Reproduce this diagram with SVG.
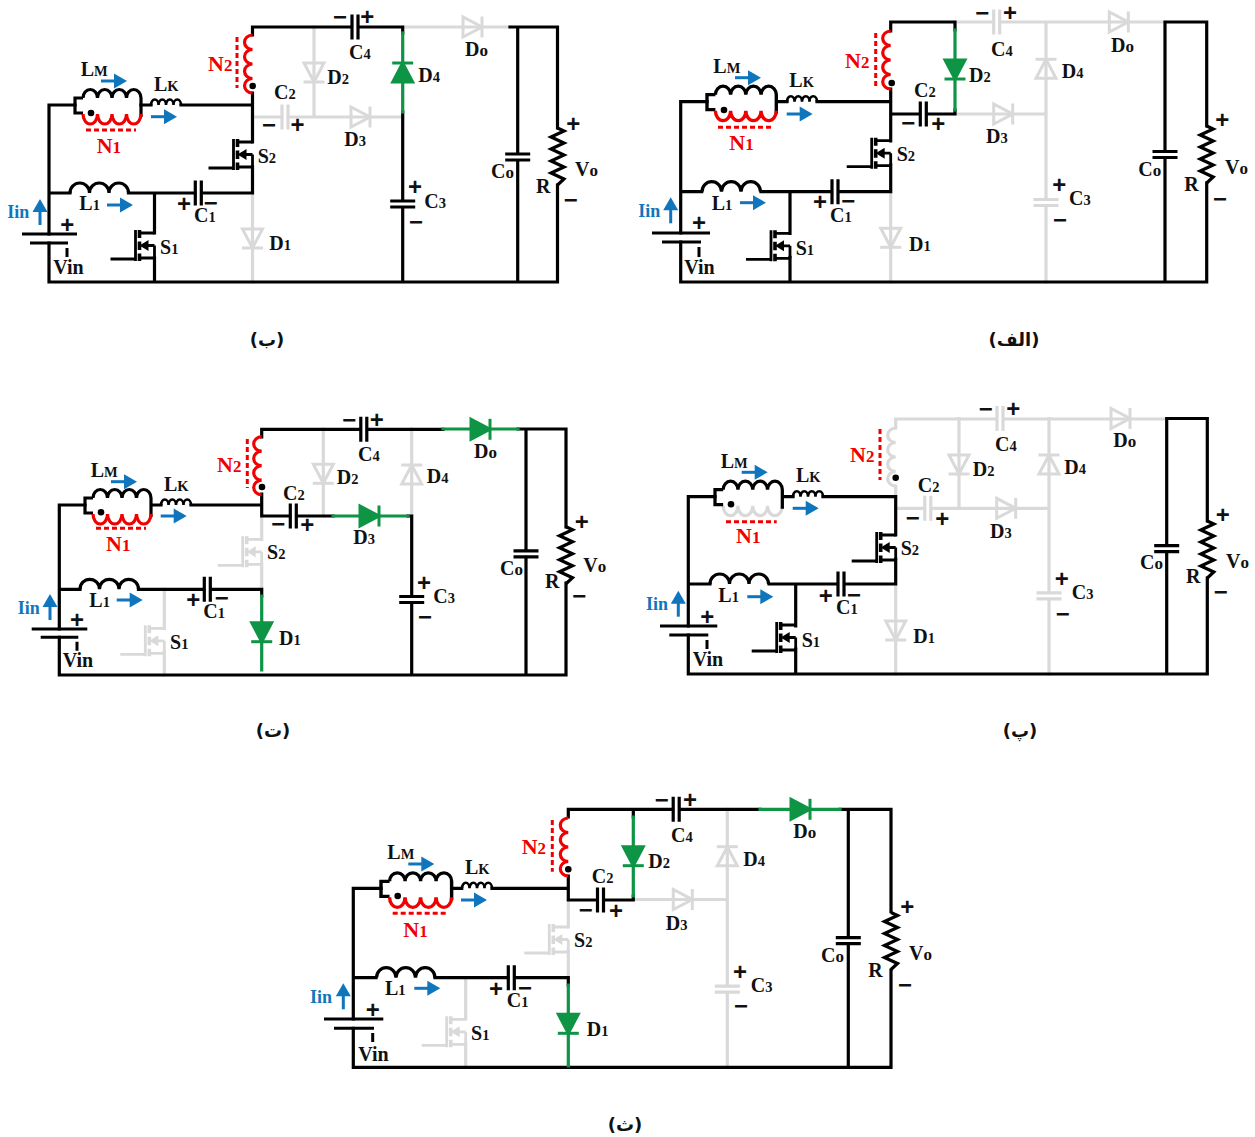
<svg xmlns="http://www.w3.org/2000/svg" width="1255" height="1137" viewBox="0 0 1255 1137">
<style>
text{font-family:"Liberation Serif","Times New Roman",serif;font-weight:bold;font-size:20px;fill:#111}
.s{font-size:14.5px}.o{font-size:17px}
.N{font-size:22px;fill:#f00000}.N .s{font-size:17px}
.I{font-size:18px;fill:#0f75bc}
.p{font-family:"Liberation Sans",Arial,sans-serif;font-size:24px;text-anchor:middle;transform:translateY(.8px)}
.cap{font-family:"DejaVu Sans",sans-serif;font-size:18px;text-anchor:middle;direction:rtl}
.w{fill:none;stroke-width:3.2;stroke-linejoin:miter;stroke-linecap:square}
.wk{stroke:#000}.wg{stroke:#d9d9d9}.wv{stroke:#0e9445}
.k{color:#000;fill:none}.g{color:#d9d9d9;fill:none}.v{color:#0e9445;fill:#0e9445}.r{color:#f00000;fill:none}
.bl{color:#0f75bc;fill:#0f75bc}
.dash{fill:none;stroke:#f00000;stroke-width:3;stroke-dasharray:5 3}
.tick{fill:none;stroke:#000;stroke-width:3}
circle{r:3.3px}
</style>
<defs>
<g id="dio" stroke="currentColor" stroke-width="3"><path d="M-10,-19H10L0,0Z"/><path d="M-10.5,0H10.5" fill="none"/></g>
<g id="cap" stroke="currentColor" stroke-width="3.2" fill="none"><rect x="-2" y="-3" width="4" height="6" fill="#fff" stroke="none"/><path d="M-3,-12.5V12.5M3,-12.5V12.5"/></g>
<g id="mos" fill="none" stroke="currentColor" stroke-width="2.8"><path d="M0,0H-15M0,25H-15M0,12.5V25M0,12.5H-10M-19,-3V28M-44,26H-19"/><path d="M-15,-3V5M-15,8.5V17M-15,20.5V28" stroke-width="3.6"/><path d="M-15,12.5L-6,7V18Z" fill="currentColor" stroke="none"/></g>
<path id="lmb" fill="none" stroke="#000" stroke-width="3.2" d="M8,-7H0V8H8M8,-7a7.25,8.5 0 0 1 14.5,0a7.25,8.5 0 0 1 14.5,0a7.25,8.5 0 0 1 14.5,0a7.25,8.5 0 0 1 14.5,0V12"/>
<path id="lmr" fill="none" stroke="currentColor" stroke-width="3.2" d="M8,9a7.25,10 0 0 0 14.5,0a7.25,10 0 0 0 14.5,0a7.25,10 0 0 0 14.5,0a7.25,10 0 0 0 14.5,0"/>
<path id="lk" fill="none" stroke="#000" stroke-width="2.6" d="M0,0a3.75,5.5 0 0 1 7.5,0a3.75,5.5 0 0 1 7.5,0a3.75,5.5 0 0 1 7.5,0a3.75,5.5 0 0 1 7.5,0"/>
<path id="l1" fill="none" stroke="#000" stroke-width="3.2" d="M0,0a9.75,10 0 0 1 19.5,0a9.75,10 0 0 1 19.5,0a9.75,10 0 0 1 19.5,0"/>
<path id="n2" fill="none" stroke="currentColor" stroke-width="3.2" d="M0,0a8,7.25 0 0 0 0,14.5a8,7.25 0 0 0 0,14.5a8,7.25 0 0 0 0,14.5a8,7.25 0 0 0 0,14.5"/>
<path id="res" fill="none" stroke="#000" stroke-width="3.2" d="M0,0L6.5,3L-6.5,9L6.5,15L-6.5,21L6.5,27L-6.5,33L6.5,39L-6.5,45L6.5,51L0,57"/>
<g id="arr" stroke="currentColor"><path d="M0,0H14" stroke-width="3" fill="none"/><path d="M13,-7.5L26,0L13,7.5Z" stroke="none"/></g>
</defs>

<g id="panel-b">
<g id="b-connectors" class="w">
<path class="w wg" d="M402.7,27H510M314,27V117M252.5,117H402.7M252.5,193V282"/>
<path class="w wk" d="M49,234V105H75M49,193H70M128.5,193H252.5V167M141,105H151M181,105H252.5M252.5,93V142M154.5,193V233M154.5,258V282M49,243V282H557.5V185M557.5,128V27H510M517.7,27V282M252.5,35V27H402.7V33M402.7,112V282"/>
<path class="w wv" d="M402.7,33V112"/>
</g>
<g id="b-LM"><use href="#lmb" x="75" y="105"/><use href="#lmr" x="75" y="105" class="r"/><circle cx="91" cy="113" r="3"/><use href="#arr" transform="translate(101,81)" class="bl"/><text x="80.7" y="75.7">L<tspan class="s">M</tspan></text></g>
<g id="b-N1"><path class="dash" d="M86,130H136"/><text class="N" x="96.7" y="152.7">N<tspan class="s">1</tspan></text></g>
<g id="b-LK"><use href="#lk" x="151" y="105"/><use href="#arr" transform="translate(151,116.7)" class="bl"/><text x="154" y="91">L<tspan class="s">K</tspan></text></g>
<g id="b-N2"><use href="#n2" x="252.5" y="35" class="r"/><path class="dash" d="M237,37V88"/><circle cx="252.7" cy="86" r="3"/><text class="N" x="208" y="71">N<tspan class="s">2</tspan></text></g>
<g id="b-L1"><use href="#l1" x="70" y="193"/><use href="#arr" transform="translate(107,205)" class="bl"/><text x="79.3" y="210">L<tspan class="s">1</tspan></text></g>
<g id="b-Vin"><path class="tick" d="M22,234H77M30,243H68"/><path class="tick" d="M67,248V257"/><text class="p" x="67.3" y="232.5">+</text><text x="53.3" y="274.3">Vin</text></g>
<g id="b-Iin"><use href="#arr" transform="translate(40,225) rotate(-90)" class="bl"/><text class="I" x="7.3" y="218.3">Iin</text></g>
<g id="b-S1"><use href="#mos" x="154.5" y="233" class="k"/><text x="160" y="254.3">S<tspan class="s">1</tspan></text></g>
<g id="b-S2"><use href="#mos" x="252.5" y="142" class="k"/><text x="257.7" y="162.7">S<tspan class="s">2</tspan></text></g>
<g id="b-C1"><use href="#cap" transform="translate(198.3,193)" class="k"/><text class="p" x="184" y="211.5">+</text><text class="p" x="210.7" y="210.2">−</text><text x="194" y="221.7">C<tspan class="s">1</tspan></text></g>
<g id="b-C2"><use href="#cap" transform="translate(285,117)" class="g"/><text class="p" x="269" y="132.5">−</text><text class="p" x="297.5" y="132.5">+</text><text x="274" y="99.3">C<tspan class="s">2</tspan></text></g>
<g id="b-C3"><use href="#cap" transform="translate(402.7,204) rotate(90)" class="k"/><text class="p" x="415" y="194.2">+</text><text class="p" x="416" y="228.8">−</text><text x="424.3" y="207.7">C<tspan class="s">3</tspan></text></g>
<g id="b-C4"><use href="#cap" transform="translate(355,27)" class="k"/><text class="p" x="340" y="24.2">−</text><text class="p" x="367.3" y="24.2">+</text><text x="349" y="59">C<tspan class="s">4</tspan></text></g>
<g id="b-D1"><use href="#dio" transform="translate(252.5,248)" class="g"/><text x="269.3" y="250">D<tspan class="s">1</tspan></text></g>
<g id="b-D2"><use href="#dio" transform="translate(314,82)" class="g"/><text x="327.3" y="84">D<tspan class="s">2</tspan></text></g>
<g id="b-D3"><use href="#dio" transform="translate(370,117) rotate(-90)" class="g"/><text x="344.3" y="146">D<tspan class="s">3</tspan></text></g>
<g id="b-D4"><use href="#dio" transform="translate(402.7,63) rotate(180)" class="v"/><text x="418.3" y="81.7">D<tspan class="s">4</tspan></text></g>
<g id="b-Do"><use href="#dio" transform="translate(482,27) rotate(-90)" class="g"/><text x="465" y="55.7">D<tspan class="o">o</tspan></text></g>
<g id="b-Co"><use href="#cap" transform="translate(517.7,157) rotate(90)" class="k"/><text x="491" y="177.7">C<tspan class="o">o</tspan></text></g>
<g id="b-R"><use href="#res" x="557.5" y="128"/><text class="p" x="573.3" y="130.8">+</text><text class="p" x="570.7" y="207.5">−</text><text x="536" y="192.7">R</text><text x="575" y="175.7">V<tspan class="o">o</tspan></text></g>
<text class="cap" x="267" y="346">(ب)</text>
</g>

<g id="panel-a">
<g id="a-connectors">
<path class="w wg" d="M955,22H1165M955,114H1046M1046,22V282M890.7,192V282"/>
<path class="w wk" d="M680.7,233V101.7H707M680.7,191.7H701.7M761,191.7H890.7V165M776.7,101.7H787M817,101.7H890.7M890.7,89V141M790,191.7V233.3M790,257.3V282M680.7,242V282H1206.7V183M1206.7,126V22H1165V282M890.7,31V22H955V30M955,110V114H890.7"/>
<path class="w wv" d="M955,30V110"/>
</g>
<g id="a-LM"><use href="#lmb" transform="translate(707,101.7) scale(1.05,1)"/><use href="#lmr" transform="translate(707,101.7) scale(1.05,1)" class="r"/><circle cx="724" cy="110" r="3"/><use href="#arr" transform="translate(735,77.7)" class="bl"/><text x="713.3" y="72.7">L<tspan class="s">M</tspan></text></g>
<g id="a-N1"><path class="dash" d="M718,127.3H772"/><text class="N" x="729.3" y="150">N<tspan class="s">1</tspan></text></g>
<g id="a-LK"><use href="#lk" x="787" y="101.7"/><use href="#arr" transform="translate(786.7,114)" class="bl"/><text x="789.3" y="86.7">L<tspan class="s">K</tspan></text></g>
<g id="a-N2"><use href="#n2" x="890.7" y="31" class="r"/><path class="dash" d="M875.7,33V87"/><circle cx="891.7" cy="83" r="3"/><text class="N" x="845" y="67.7">N<tspan class="s">2</tspan></text></g>
<g id="a-L1"><use href="#l1" x="702" y="191.7"/><use href="#arr" transform="translate(740,202.7)" class="bl"/><text x="711.7" y="210">L<tspan class="s">1</tspan></text></g>
<g id="a-Vin"><path class="tick" d="M652,233H710M662,242H701M699,247V257"/><text class="p" x="699" y="230.5">+</text><text x="684.3" y="274.3">Vin</text></g>
<g id="a-Iin"><use href="#arr" transform="translate(670.7,223.3) rotate(-90)" class="bl"/><text class="I" x="638.3" y="217.3">Iin</text></g>
<g id="a-S1"><use href="#mos" x="790" y="233.3" class="k"/><text x="795.7" y="255">S<tspan class="s">1</tspan></text></g>
<g id="a-S2"><use href="#mos" x="890.7" y="140.7" class="k"/><text x="896.7" y="160.7">S<tspan class="s">2</tspan></text></g>
<g id="a-C1"><use href="#cap" transform="translate(835,191.7)" class="k"/><text class="p" x="820" y="209.2">+</text><text class="p" x="848.3" y="208.2">−</text><text x="830" y="221.7">C<tspan class="s">1</tspan></text></g>
<g id="a-C2"><use href="#cap" transform="translate(923.3,114)" class="k"/><text class="p" x="908.3" y="129.8">−</text><text class="p" x="938.3" y="130.8">+</text><text x="914" y="96.7">C<tspan class="s">2</tspan></text></g>
<g id="a-C3"><use href="#cap" transform="translate(1046,202.5) rotate(90)" class="g"/><text class="p" x="1059.3" y="192.5">+</text><text class="p" x="1060" y="227.5">−</text><text x="1069" y="205">C<tspan class="s">3</tspan></text></g>
<g id="a-C4"><use href="#cap" transform="translate(996.7,22)" class="g"/><text class="p" x="982.3" y="20.2">−</text><text class="p" x="1010" y="20.2">+</text><text x="991" y="56">C<tspan class="s">4</tspan></text></g>
<g id="a-D1"><use href="#dio" transform="translate(890.7,247.3)" class="g"/><text x="909" y="250.7">D<tspan class="s">1</tspan></text></g>
<g id="a-D2"><use href="#dio" transform="translate(955,79)" class="v"/><text x="969" y="81.7">D<tspan class="s">2</tspan></text></g>
<g id="a-D3"><use href="#dio" transform="translate(1012.7,114) rotate(-90)" class="g"/><text x="986" y="143.3">D<tspan class="s">3</tspan></text></g>
<g id="a-D4"><use href="#dio" transform="translate(1046,59.3) rotate(180)" class="g"/><text x="1061.7" y="78.3">D<tspan class="s">4</tspan></text></g>
<g id="a-Do"><use href="#dio" transform="translate(1128.3,22) rotate(-90)" class="g"/><text x="1111" y="52.3">D<tspan class="o">o</tspan></text></g>
<g id="a-Co"><use href="#cap" transform="translate(1165,154.5) rotate(90)" class="k"/><text x="1138.3" y="175.7">C<tspan class="o">o</tspan></text></g>
<g id="a-R"><use href="#res" x="1206.7" y="126"/><text class="p" x="1222.3" y="127.5">+</text><text class="p" x="1220" y="205.8">−</text><text x="1184.3" y="190.7">R</text><text x="1225" y="174">V<tspan class="o">o</tspan></text></g>
<text class="cap" x="1014" y="346">(الف)</text>
</g>

<g id="panel-t">
<g id="t-connectors">
<path class="w wg" d="M323.3,429V516M411.7,429V516M164.3,589.3V628.3M164.3,651.7V675M261.7,516V539.3M261.7,564V589.3"/>
<path class="w wk" d="M59.3,629V505H85M59.3,589.3H80M138.5,589.3H261.7V596M151.7,505H161M191,505H261.7M261.7,494V516H333M59.3,637.3V675H566V583M566,527V429H518M526,429V675M261.7,437V429.3H443M408,516H411.7V675"/>
<path class="w wv" d="M333,516H408M443,429H518M261.7,596V670"/>
</g>
<g id="t-LM"><use href="#lmb" x="85" y="505"/><use href="#lmr" x="85" y="505" class="r"/><circle cx="101" cy="512.3" r="3"/><use href="#arr" transform="translate(111,481.7)" class="bl"/><text x="90.7" y="477">L<tspan class="s">M</tspan></text></g>
<g id="t-N1"><path class="dash" d="M96,528.3H146"/><text class="N" x="106" y="550.7">N<tspan class="s">1</tspan></text></g>
<g id="t-LK"><use href="#lk" x="161" y="505"/><use href="#arr" transform="translate(160.7,516)" class="bl"/><text x="164" y="491">L<tspan class="s">K</tspan></text></g>
<g id="t-N2"><use href="#n2" x="261.7" y="436.7" class="r"/><path class="dash" d="M247.3,439V488"/><circle cx="262" cy="487" r="3"/><text class="N" x="217" y="472">N<tspan class="s">2</tspan></text></g>
<g id="t-L1"><use href="#l1" x="80" y="589.3"/><use href="#arr" transform="translate(116.7,600)" class="bl"/><text x="89.3" y="606.7">L<tspan class="s">1</tspan></text></g>
<g id="t-Vin"><path class="tick" d="M31.7,629H87.3M40.7,637.3H78.3M77,641.7V650.7"/><text class="p" x="77" y="627.5">+</text><text x="62.7" y="667">Vin</text></g>
<g id="t-Iin"><use href="#arr" transform="translate(50,620) rotate(-90)" class="bl"/><text class="I" x="17.7" y="614">Iin</text></g>
<g id="t-S1"><use href="#mos" x="164.3" y="628.3" class="g"/><text x="170" y="649">S<tspan class="s">1</tspan></text></g>
<g id="t-S2"><use href="#mos" x="261.7" y="539.3" class="g"/><text x="267" y="559">S<tspan class="s">2</tspan></text></g>
<g id="t-C1"><use href="#cap" transform="translate(207.3,589.3)" class="k"/><text class="p" x="193.3" y="607.5">+</text><text class="p" x="221.7" y="605.5">−</text><text x="203.3" y="617.7">C<tspan class="s">1</tspan></text></g>
<g id="t-C2"><use href="#cap" transform="translate(293.3,516)" class="k"/><text class="p" x="278.3" y="531.5">−</text><text class="p" x="307.3" y="532.5">+</text><text x="283" y="500">C<tspan class="s">2</tspan></text></g>
<g id="t-C3"><use href="#cap" transform="translate(411.7,599.5) rotate(90)" class="k"/><text class="p" x="424" y="590.2">+</text><text class="p" x="425" y="624.2">−</text><text x="433.3" y="602.7">C<tspan class="s">3</tspan></text></g>
<g id="t-C4"><use href="#cap" transform="translate(363.8,429.3)" class="k"/><text class="p" x="349.3" y="427.5">−</text><text class="p" x="376.7" y="427.5">+</text><text x="358" y="460.7">C<tspan class="s">4</tspan></text></g>
<g id="t-D1"><use href="#dio" transform="translate(261.7,641.7)" class="v"/><text x="279" y="645">D<tspan class="s">1</tspan></text></g>
<g id="t-D2"><use href="#dio" transform="translate(323.3,483.3)" class="g"/><text x="336.7" y="484.3">D<tspan class="s">2</tspan></text></g>
<g id="t-D3"><use href="#dio" transform="translate(379,516) rotate(-90)" class="v"/><text x="353.3" y="544.3">D<tspan class="s">3</tspan></text></g>
<g id="t-D4"><use href="#dio" transform="translate(411.7,465) rotate(180)" class="g"/><text x="426.7" y="482.7">D<tspan class="s">4</tspan></text></g>
<g id="t-Do"><use href="#dio" transform="translate(490,429.3) rotate(-90)" class="v"/><text x="474" y="457.7">D<tspan class="o">o</tspan></text></g>
<g id="t-Co"><use href="#cap" transform="translate(526,553.8) rotate(90)" class="k"/><text x="500" y="575">C<tspan class="o">o</tspan></text></g>
<g id="t-R"><use href="#res" x="566" y="526.7"/><text class="p" x="581.7" y="529.2">+</text><text class="p" x="579.3" y="603.2">−</text><text x="545" y="588.3">R</text><text x="583.3" y="572.3">V<tspan class="o">o</tspan></text></g>
<text class="cap" x="273" y="737">(ت)</text>
</g>

<g id="panel-p">
<g id="p-connectors">
<path class="w wg" d="M895.7,428V419H1166M895.7,486V497M895.7,508.3H1049M959,418.5V508M1049,418.5V674M895.7,584V674"/>
<path class="w wk" d="M688.3,626V496.7H715M688.3,584H710M769,584H895.7V559M782.7,496.7H793M823,496.7H895.7V535M795.7,584V626M795.7,649V674M688.3,635V674H1207.3V578M1207.3,521V418.5H1166.7V674"/>
</g>
<g id="p-LM"><use href="#lmr" transform="translate(715,496.7) scale(1.02,1)" class="g"/><use href="#lmb" transform="translate(715,496.7) scale(1.02,1)"/><circle cx="731" cy="504.3" r="3"/><use href="#arr" transform="translate(741.7,472.3)" class="bl"/><text x="720.7" y="468.3">L<tspan class="s">M</tspan></text></g>
<g id="p-N1"><path class="dash" d="M726,521.7H776.7"/><text class="N" x="736" y="543.3">N<tspan class="s">1</tspan></text></g>
<g id="p-LK"><use href="#lk" x="793" y="496.7"/><use href="#arr" transform="translate(792.7,508.3)" class="bl"/><text x="796" y="481.7">L<tspan class="s">K</tspan></text></g>
<g id="p-N2"><use href="#n2" x="895.7" y="428" class="g"/><path class="dash" d="M880,429V480"/><circle cx="895.7" cy="477.7" r="3"/><text class="N" x="850" y="462.3">N<tspan class="s">2</tspan></text></g>
<g id="p-L1"><use href="#l1" x="710" y="584"/><use href="#arr" transform="translate(747.3,596.7)" class="bl"/><text x="718.3" y="602.3">L<tspan class="s">1</tspan></text></g>
<g id="p-Vin"><path class="tick" d="M660,626H717.3M669.3,635H708.3M707,640V649"/><text class="p" x="707.3" y="624.2">+</text><text x="692.7" y="665.7">Vin</text></g>
<g id="p-Iin"><use href="#arr" transform="translate(678.3,616.7) rotate(-90)" class="bl"/><text class="I" x="646" y="610">Iin</text></g>
<g id="p-S1"><use href="#mos" x="795.7" y="625" class="k"/><text x="801.7" y="646.7">S<tspan class="s">1</tspan></text></g>
<g id="p-S2"><use href="#mos" x="895.7" y="535" class="k"/><text x="900.7" y="555">S<tspan class="s">2</tspan></text></g>
<g id="p-C1"><use href="#cap" transform="translate(841,584)" class="k"/><text class="p" x="825.7" y="603.5">+</text><text class="p" x="854" y="602.5">−</text><text x="836" y="614.3">C<tspan class="s">1</tspan></text></g>
<g id="p-C2"><use href="#cap" transform="translate(927.8,508.3)" class="g"/><text class="p" x="912.7" y="524.8">−</text><text class="p" x="942.3" y="525.8">+</text><text x="917.7" y="491.7">C<tspan class="s">2</tspan></text></g>
<g id="p-C3"><use href="#cap" transform="translate(1049,595.8) rotate(90)" class="g"/><text class="p" x="1061.7" y="585.8">+</text><text class="p" x="1062.7" y="620.8">−</text><text x="1071.7" y="599">C<tspan class="s">3</tspan></text></g>
<g id="p-C4"><use href="#cap" transform="translate(1000,418.5)" class="g"/><text class="p" x="985.7" y="416.5">−</text><text class="p" x="1013.3" y="416.5">+</text><text x="995" y="451">C<tspan class="s">4</tspan></text></g>
<g id="p-D1"><use href="#dio" transform="translate(895.7,640)" class="g"/><text x="913.3" y="642.7">D<tspan class="s">1</tspan></text></g>
<g id="p-D2"><use href="#dio" transform="translate(959,474)" class="g"/><text x="972.7" y="475.7">D<tspan class="s">2</tspan></text></g>
<g id="p-D3"><use href="#dio" transform="translate(1015.7,508.3) rotate(-90)" class="g"/><text x="990" y="537.7">D<tspan class="s">3</tspan></text></g>
<g id="p-D4"><use href="#dio" transform="translate(1049,455) rotate(180)" class="g"/><text x="1064.3" y="473.7">D<tspan class="s">4</tspan></text></g>
<g id="p-Do"><use href="#dio" transform="translate(1130,418.5) rotate(-90)" class="g"/><text x="1113.3" y="447.3">D<tspan class="o">o</tspan></text></g>
<g id="p-Co"><use href="#cap" transform="translate(1166.7,548.7) rotate(90)" class="k"/><text x="1140" y="569.3">C<tspan class="o">o</tspan></text></g>
<g id="p-R"><use href="#res" x="1207.3" y="521"/><text class="p" x="1222.7" y="522.5">+</text><text class="p" x="1220.7" y="599.2">−</text><text x="1186" y="583.3">R</text><text x="1226" y="567.7">V<tspan class="o">o</tspan></text></g>
<text class="cap" x="1020" y="737">(پ)</text>
</g>

<g id="panel-th">
<g id="th-connectors">
<path class="w wg" d="M465.7,977.7V1019M465.7,1044V1067M568.3,900V927M568.3,951V977.7M633.3,899.5H727.3M727.3,809.3V1067"/>
<path class="w wk" d="M353.3,1019V888.3H381M353.3,977.7H376M435,977.7H568.3V985M451.7,888.3H461.7M492,888.3H568.3M568.3,876V900H633.3V896M353.3,1028.3V1067.3H891V970M891,911.7V809.3H840M848.3,809.3V1067.3M568.3,817V809.3H760M633.3,809.3V817"/>
<path class="w wv" d="M760,809.3H840M633.3,817V896M568.3,985V1066"/>
</g>
<g id="th-LM"><use href="#lmb" transform="translate(381,888.3) scale(1.07,1)"/><use href="#lmr" transform="translate(381,888.3) scale(1.07,1)" class="r"/><circle cx="397.7" cy="896" r="3"/><use href="#arr" transform="translate(408.3,864)" class="bl"/><text x="387.3" y="859.3">L<tspan class="s">M</tspan></text></g>
<g id="th-N1"><path class="dash" d="M392.7,913.3H446"/><text class="N" x="403.3" y="936.7">N<tspan class="s">1</tspan></text></g>
<g id="th-LK"><use href="#lk" x="462" y="888.3"/><use href="#arr" transform="translate(461,900)" class="bl"/><text x="465" y="874">L<tspan class="s">K</tspan></text></g>
<g id="th-N2"><use href="#n2" x="568.3" y="818" class="r"/><path class="dash" d="M552.3,820V871.7"/><circle cx="568.3" cy="869.3" r="3"/><text class="N" x="521.7" y="854">N<tspan class="s">2</tspan></text></g>
<g id="th-L1"><use href="#l1" x="376.5" y="977.7"/><use href="#arr" transform="translate(414.3,988.3)" class="bl"/><text x="385" y="995">L<tspan class="s">1</tspan></text></g>
<g id="th-Vin"><path class="tick" d="M324,1019H383.3M334,1028.3H374M372.7,1033V1042"/><text class="p" x="372.7" y="1017.5">+</text><text x="358.3" y="1060.7">Vin</text></g>
<g id="th-Iin"><use href="#arr" transform="translate(343.3,1009.3) rotate(-90)" class="bl"/><text class="I" x="310" y="1003.3">Iin</text></g>
<g id="th-S1"><use href="#mos" x="465.7" y="1019.3" class="g"/><text x="471" y="1040">S<tspan class="s">1</tspan></text></g>
<g id="th-S2"><use href="#mos" x="568.3" y="927" class="g"/><text x="574" y="946.7">S<tspan class="s">2</tspan></text></g>
<g id="th-C1"><use href="#cap" transform="translate(511.3,977.7)" class="k"/><text class="p" x="496" y="996.5">+</text><text class="p" x="525" y="994.8">−</text><text x="506.7" y="1007.3">C<tspan class="s">1</tspan></text></g>
<g id="th-C2"><use href="#cap" transform="translate(600.5,900)" class="k"/><text class="p" x="585.7" y="916.8">−</text><text class="p" x="616" y="918.2">+</text><text x="591.7" y="882.7">C<tspan class="s">2</tspan></text></g>
<g id="th-C3"><use href="#cap" transform="translate(727.3,989.2) rotate(90)" class="g"/><text class="p" x="740" y="979.2">+</text><text class="p" x="741" y="1013.5">−</text><text x="750.7" y="991.7">C<tspan class="s">3</tspan></text></g>
<g id="th-C4"><use href="#cap" transform="translate(676.2,809.3)" class="k"/><text class="p" x="661.7" y="806.8">−</text><text class="p" x="690" y="806.8">+</text><text x="671" y="841.7">C<tspan class="s">4</tspan></text></g>
<g id="th-D1"><use href="#dio" transform="translate(568.3,1033.3)" class="v"/><text x="586.7" y="1035.7">D<tspan class="s">1</tspan></text></g>
<g id="th-D2"><use href="#dio" transform="translate(633.3,865.7)" class="v"/><text x="648.3" y="867.7">D<tspan class="s">2</tspan></text></g>
<g id="th-D3"><use href="#dio" transform="translate(692.3,899.5) rotate(-90)" class="g"/><text x="665.7" y="930">D<tspan class="s">3</tspan></text></g>
<g id="th-D4"><use href="#dio" transform="translate(727.3,846.7) rotate(180)" class="g"/><text x="743.3" y="866">D<tspan class="s">4</tspan></text></g>
<g id="th-Do"><use href="#dio" transform="translate(810,809.3) rotate(-90)" class="v"/><text x="793.3" y="838.3">D<tspan class="o">o</tspan></text></g>
<g id="th-Co"><use href="#cap" transform="translate(848.3,940.7) rotate(90)" class="k"/><text x="821" y="961.7">C<tspan class="o">o</tspan></text></g>
<g id="th-R"><use href="#res" x="891" y="912.5"/><text class="p" x="907.3" y="914.2">+</text><text class="p" x="905" y="991.8">−</text><text x="868.3" y="976.7">R</text><text x="909" y="960">V<tspan class="o">o</tspan></text></g>
<text class="cap" x="625" y="1131">(ث)</text>
</g>
</svg>
